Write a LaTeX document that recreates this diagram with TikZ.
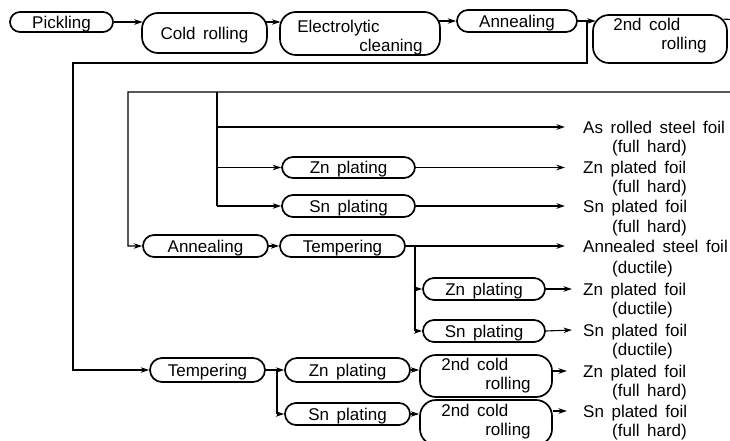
\documentclass[tikz,border=0pt]{standalone}
\usepackage{fontspec}
\setmainfont{Liberation Sans}[WordSpace=1.6]
\usetikzlibrary{arrows.meta,calc}
% two-line label with the second line indented
\newcommand{\twoline}[3]{\begin{tabular}{@{}l@{}}#2\\\hspace*{#1}#3\end{tabular}}
\begin{document}
\begin{tikzpicture}[x=1pt,y=-1pt,
  every node/.style={font=\fontsize{17}{19}\selectfont},
  proc/.style={draw, line width=1.7pt, rounded corners=11pt, inner sep=0pt},
  one/.style={proc, text height=12.5pt, text depth=0pt},
  tall/.style={proc, rounded corners=16pt},
  link/.style={line width=1.1pt},
  arr/.style={link, -{Stealth[length=8.5pt,width=5.5pt]}},
  product/.style={anchor=west, inner sep=0pt, text height=12pt, text depth=0pt},
]
\useasboundingbox (0,0) rectangle (730,441);
\clip (0,0) rectangle (730,441);

% main line
\node[one, minimum width=103pt, minimum height=20pt, rounded corners=10pt] (pick) at (61.5,22) {Pickling};
\node[one, rounded corners=16pt, minimum width=125pt, minimum height=40pt] (cold) at (204.5,33) {Cold rolling};
\node[tall, minimum width=160pt, minimum height=43pt] (elec) at (360,33.5)
  {\raisebox{-5pt}[\height][\depth]{\twoline{62pt}{Electrolytic}{cleaning}}};
\node[one, minimum width=120pt, minimum height=22pt] (annA) at (517,21) {Annealing};
\node[tall, minimum width=134pt, minimum height=48pt] (rollA) at (660,39)
  {\raisebox{3pt}[\height][\depth]{\twoline{48pt}{2nd cold}{rolling}}};

% full hard branch
\node[one, minimum width=133pt, minimum height=21pt] (znA) at (348.5,167.5) {Zn plating};
\node[one, minimum width=133pt, minimum height=22pt] (snA) at (348.5,206) {Sn plating};

% annealed branch
\node[one, minimum width=125pt, minimum height=22pt] (annB) at (205.5,246) {Annealing};
\node[one, minimum width=125pt, minimum height=22pt] (tempA) at (342.5,246) {Tempering};
\node[one, minimum width=122pt, minimum height=22pt] (znB) at (484,289) {Zn plating};
\node[one, minimum width=122pt, minimum height=22pt] (snB) at (484,331) {Sn plating};

% tempering branch
\node[one, minimum width=115pt, minimum height=24pt, rounded corners=12pt] (tempB) at (207.5,370) {Tempering};
\node[one, minimum width=125pt, minimum height=24pt, rounded corners=12pt] (znC) at (347.5,370) {Zn plating};
\node[one, minimum width=125pt, minimum height=22pt] (snC) at (347.5,414) {Sn plating};
\node[tall, minimum width=132pt, minimum height=42pt] (rollB) at (486,376) {\twoline{44pt}{2nd cold}{rolling}};
\node[tall, minimum width=132pt, minimum height=45pt] (rollC) at (486,422.5) {\twoline{44pt}{2nd cold}{rolling}};

% products
\node[product] (o1) at (583,127) {As rolled steel foil};
\node[product] (o1b) at (612,146) {(full hard)};
\node[product] (o2) at (583,167.5) {Zn plated foil};
\node[product] (o2b) at (612,186) {(full hard)};
\node[product] (o3) at (583,206) {Sn plated foil};
\node[product] (o3b) at (612,226) {(full hard)};
\node[product] (o4) at (583,246) {Annealed steel foil};
\node[product] (o4b) at (612,267) {(ductile)};
\node[product] (o5) at (583,289) {Zn plated foil};
\node[product] (o5b) at (612,308) {(ductile)};
\node[product] (o6) at (583,330) {Sn plated foil};
\node[product] (o6b) at (612,349) {(ductile)};
\node[product] (o7) at (583,371) {Zn plated foil};
\node[product] (o7b) at (612,390) {(full hard)};
\node[product] (o8) at (583,411) {Sn plated foil};
\node[product] (o8b) at (612,430) {(full hard)};

% junction and routing points
\coordinate (jA) at (587,21);
\coordinate (kA) at (73,63);
\coordinate (loopR) at (750,20);
\coordinate (loopL) at (128,92);
\coordinate (brA) at (217,92);
\coordinate (brB) at (415,246);
\coordinate (brC) at (277,370);

% main line connectors
\draw[arr] (pick.east) -- ($(cold.west |- pick.east)+(1.6,0)$);
\draw[arr] ($(cold.east |- pick.east)+(-1.6,0)$) -- ($(elec.west |- pick.east)+(1.2,0)$);
\draw[arr] ($(elec.east |- annA.west)+(-1.6,0)$) -- (annA.west);
\draw[link] (annA.east) -- (jA);
\draw[arr] (jA) -- ($(rollA.west |- jA)+(3.5,0)$);

% bypass of the second cold rolling
\draw[arr] (jA) |- (kA) |- (tempB.west);

% after second cold rolling
\draw[arr] ($(rollA.north east)+(-4.4,5)$) -- (loopR) |- (loopL) |- (annB.west);
\draw[link] (brA) -- (brA |- snA.west);
\draw[arr] (brA |- o1.west) -- ([xshift=-18pt]o1.west);
\draw[arr] (brA |- znA.west) -- (znA.west);
\draw[arr] (brA |- snA.west) -- (snA.west);
\draw[arr] (znA.east) -- ([xshift=-18pt]o2.west);
\draw[arr] (snA.east) -- ([xshift=-18pt]o3.west);

% annealing and tempering
\draw[arr] (annB.east) -- (tempA.west);
\draw[arr] (tempA.east) -- ([xshift=-18pt]o4.west);
\draw[link] (brB) -- (brB |- snB.west);
\draw[arr] (brB |- znB.west) -- (znB.west);
\draw[arr] (brB |- snB.west) -- (snB.west);
\draw[arr] (znB.east) -- ([xshift=-11pt]o5.west);
\draw[arr] (snB.east) -- ([xshift=-11pt]o6.west);

% tempering only
\draw[link] (tempB.east) -- (brC) -- (brC |- snC.west);
\draw[arr] (brC) -- (znC.west);
\draw[arr] (brC |- snC.west) -- (snC.west);
\draw[arr] (znC.east) -- (rollB.west |- znC.east);
\draw[arr] (snC.east) -- (rollC.west |- snC.east);
\draw[arr] (rollB.east |- o7.west) -- ([xshift=-16pt]o7.west);
\draw[arr] (rollC.east |- o8.west) -- ([xshift=-16pt]o8.west);
\end{tikzpicture}
\end{document}
